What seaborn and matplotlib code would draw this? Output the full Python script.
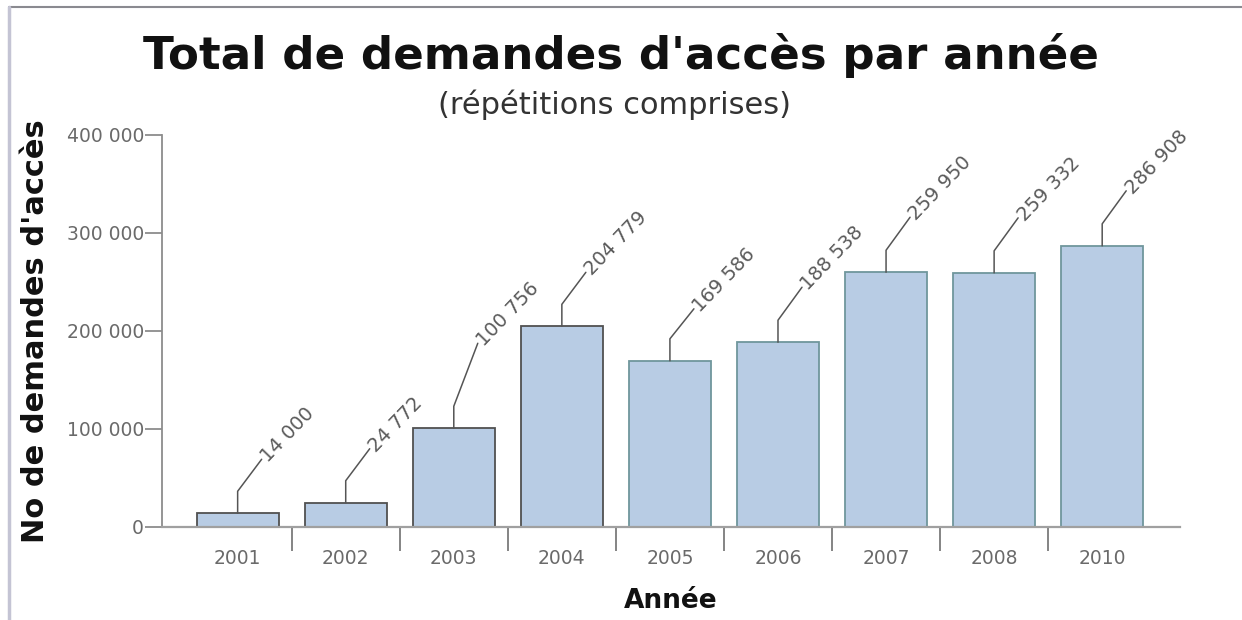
import matplotlib
matplotlib.use("Agg")
import matplotlib.pyplot as plt
import seaborn as sns
import pandas as pd
from matplotlib.lines import Line2D

years = ["2001", "2002", "2003", "2004", "2005", "2006", "2007", "2008", "2010"]
values = [14000, 24772, 100756, 204779, 169586, 188538, 259950, 259332, 286908]
value_labels = ["14 000", "24 772", "100 756", "204 779", "169 586", "188 538", "259 950", "259 332", "286 908"]
y_ticks = [0, 100000, 200000, 300000, 400000]
y_tick_labels = ["0", "100 000", "200 000", "300 000", "400 000"]

title = "Total de demandes d'accès par année"
subtitle = "(répétitions comprises)"
xlabel = "Année"
ylabel = "No de demandes d'accès"

sns.set_theme(style="white")
plt.rcParams['font.family'] = ['DejaVu Sans']

DPI = 100
fig = plt.figure(figsize=(12.42, 6.2), dpi=DPI)
fig.patch.set_facecolor("white")
ax = fig.add_axes([162 / 1242, 1 - 527 / 620, (1180 - 162) / 1242, 392 / 620])

df = pd.DataFrame({"year": years, "value": values})
sns.barplot(data=df, x="year", y="value", color="#b8cce4", saturation=1,
            width=0.76, ax=ax, linewidth=1.3)

edge_colors = ["#505050"] * 4 + ["#6f969c"] * 5
for p, ec in zip(ax.patches, edge_colors):
    p.set_facecolor("#b8cce4")
    p.set_edgecolor(ec)

ax.set_xlim(-0.70, 8.72)
ax.set_ylim(0, 400000)
ax.set_yticks(y_ticks)
ax.set_yticklabels(y_tick_labels)
ax.set_xticks(range(len(years)))
ax.set_xticklabels(years)
ax.set_xticks([i + 0.5 for i in range(len(years) - 1)], minor=True)

for s in ["top", "right"]:
    ax.spines[s].set_visible(False)
ax.spines["left"].set_color("#8c8c8c")
ax.spines["bottom"].set_color("#a0a0a0")
ax.spines["left"].set_linewidth(1.3)
ax.spines["bottom"].set_linewidth(1.6)

ax.tick_params(axis="y", which="major", length=12, width=1.3, color="#8c8c8c",
               labelsize=13.5, labelcolor="#6a6a6a", pad=1, left=True)
ax.tick_params(axis="x", which="major", length=0, labelsize=13.5,
               labelcolor="#6a6a6a", pad=16, bottom=True)
ax.tick_params(axis="x", which="minor", length=17, width=1.2, color="#707070",
               direction="out", bottom=True)

ax.set_xlabel(xlabel, fontsize=19, fontweight="bold", color="#111111", labelpad=14)
ax.set_ylabel(ylabel, fontsize=22, fontweight="bold", color="#111111", labelpad=12)

fig.text(0.5, 1 - 56 / 620, title, ha="center", va="center", fontsize=32.5,
         fontweight="bold", color="#111111")
fig.text(0.495, 1 - 105 / 620, subtitle, ha="center", va="center", fontsize=22,
         color="#333333")

# leader lines + rotated labels
rise_px = 22
diag_dx = 24
diag_dy = [32, 32, 63, 32, 30, 33, 33, 33, 33]
for i, (v, lab) in enumerate(zip(values, value_labels)):
    x0, y0 = ax.transData.transform((i, v))
    x1, y1 = x0, y0 + rise_px
    x2, y2 = x1 + diag_dx, y1 + diag_dy[i]
    fig.add_artist(Line2D([x0, x1, x2], [y0, y1, y2], transform=None,
                          color="#555555", linewidth=1.1))
    fig.text(x2 / fig.bbox.width + 0.002, y2 / fig.bbox.height, lab,
             rotation=46, rotation_mode="anchor", ha="left", va="center",
             fontsize=14, color="#5a5a5a")

# frame lines
fig.add_artist(Line2D([9 / 1242, 1], [1 - 7 / 620, 1 - 7 / 620], transform=fig.transFigure,
                      color="#8a8a90", linewidth=1.5))
fig.add_artist(Line2D([9 / 1242, 9 / 1242], [0, 1 - 7 / 620], transform=fig.transFigure,
                      color="#c4c4d4", linewidth=2.5))

fig.savefig("out.png", dpi=DPI)
